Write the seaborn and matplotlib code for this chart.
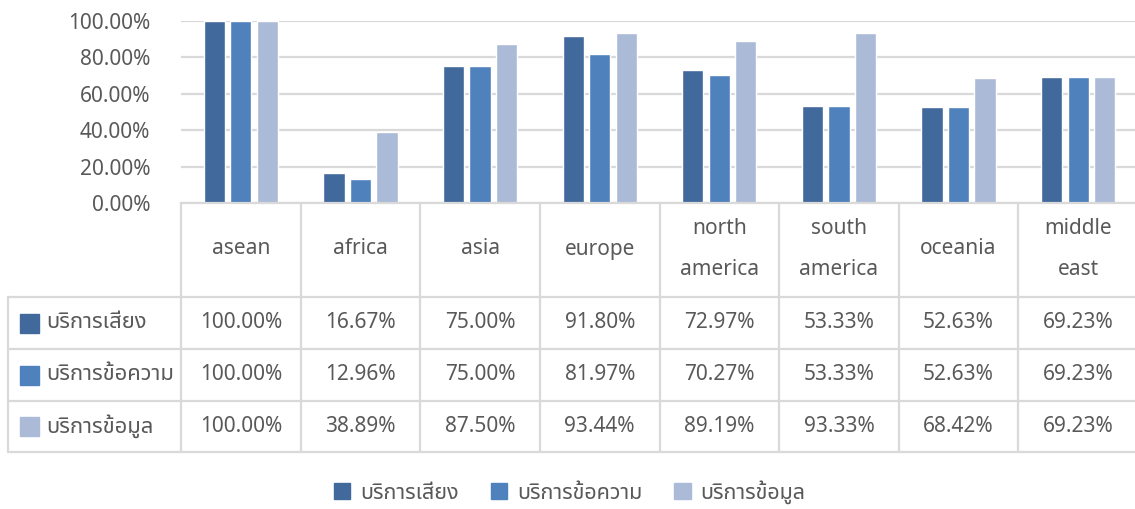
import matplotlib
matplotlib.use('Agg')
import matplotlib.pyplot as plt
from matplotlib import font_manager
from matplotlib.ft2font import FT2Font
from matplotlib.lines import Line2D
from matplotlib.patches import Patch, Rectangle
from matplotlib.transforms import blended_transform_factory
import seaborn as sns
import pandas as pd

# data
regions = ['asean', 'africa', 'asia', 'europe', 'north\namerica',
           'south\namerica', 'oceania', 'middle\neast']
services = ['บริการเสียง', 'บริการข้อความ', 'บริการข้อมูล']
voice = [100.00, 16.67, 75.00, 91.80, 72.97, 53.33, 52.63, 69.23]
message = [100.00, 12.96, 75.00, 81.97, 70.27, 53.33, 52.63, 69.23]
data_service = [100.00, 38.89, 87.50, 93.44, 89.19, 93.33, 68.42, 69.23]
y_ticks = [0, 20, 40, 60, 80, 100]

colors = ['#41699C', '#4F81BD', '#AABAD7']
grid_color = '#D9D9D9'
text_color = '#595959'
fs = 15


def thai_font():
    """Find an installed family that has Thai glyphs."""
    names = []
    for f in font_manager.fontManager.ttflist:
        try:
            if 0x0E1A in FT2Font(f.fname).get_charmap():
                names.append(f.name)
        except Exception:
            pass
    for pref in ['Noto Sans Thai', 'Noto Sans Thai UI', 'DejaVu Sans']:
        if pref in names:
            return pref
    return names[0] if names else 'DejaVu Sans'


sns.set_theme(style='white')
plt.rcParams['font.family'] = [thai_font(), 'DejaVu Sans']
plt.rcParams['font.weight'] = 'light'
plt.rcParams['text.color'] = text_color

W, H = 1135, 509


def yf(px):
    return 1 - px / H


df = pd.DataFrame({
    'region': regions * 3,
    'service': [s for s in services for _ in regions],
    'value': voice + message + data_service,
})

fig = plt.figure(figsize=(W / 100, H / 100), dpi=100)
ax = fig.add_axes([181 / W, yf(203), 957 / W, 182 / H])

sns.barplot(data=df, x='region', y='value', hue='service', palette=colors,
            saturation=1, width=0.665, gap=0.2, legend=False, ax=ax)

ax.set_xlim(-0.5, len(regions) - 0.5)
ax.set_ylim(0, 100)
ax.set_yticks(y_ticks)
ax.set_yticklabels([f'{v:.2f}%' for v in y_ticks], fontsize=fs, color=text_color)
ax.tick_params(axis='y', length=0, pad=22)
ax.tick_params(axis='x', bottom=False, labelbottom=False)
ax.set_xlabel('')
ax.set_ylabel('')
ax.yaxis.grid(True, color=grid_color, linewidth=1.6)
ax.set_axisbelow(True)
for side in ['top', 'right', 'left']:
    ax.spines[side].set_visible(False)
ax.spines['bottom'].set_color(grid_color)
ax.spines['bottom'].set_linewidth(1.6)

# data table below the bars
trans = blended_transform_factory(ax.transData, fig.transFigure)
row_lines = [297, 349, 401, 452]
row_centers = [323, 375, 426.5]
line_kw = dict(color=grid_color, linewidth=1.6, clip_on=False)

for k in range(len(regions) + 1):
    ax.plot([k - 0.5, k - 0.5], [yf(203), yf(452)], transform=trans, **line_kw)

for y in row_lines:
    fig.add_artist(Line2D([8 / W, 1], [yf(y), yf(y)], **line_kw))
fig.add_artist(Line2D([8 / W, 8 / W], [yf(297), yf(452)], **line_kw))

for i, name in enumerate(regions):
    ax.text(i, yf(249), name, transform=trans, ha='center', va='center',
            fontsize=fs, linespacing=2.3, color=text_color)

for series, name, color, yc in zip([voice, message, data_service], services,
                                   colors, row_centers):
    fig.add_artist(Rectangle((20 / W, yf(yc + 9.5)), 19 / W, 19 / H,
                             color=color, transform=fig.transFigure))
    fig.text(46 / W, yf(yc), name, ha='left', va='center', fontsize=15.8,
             color=text_color)
    for i, v in enumerate(series):
        ax.text(i, yf(yc), f'{v:.2f}%', transform=trans, ha='center',
                va='center', fontsize=fs, color=text_color)

handles = [Patch(color=c, label=s) for c, s in zip(colors, services)]
fig.legend(handles=handles, loc='center', bbox_to_anchor=(0.502, yf(492)),
           ncol=3, frameon=False, fontsize=15.5, handlelength=0.75,
           handleheight=0.75, handletextpad=0.45, columnspacing=1.5)

fig.savefig('out.png', dpi=100)
